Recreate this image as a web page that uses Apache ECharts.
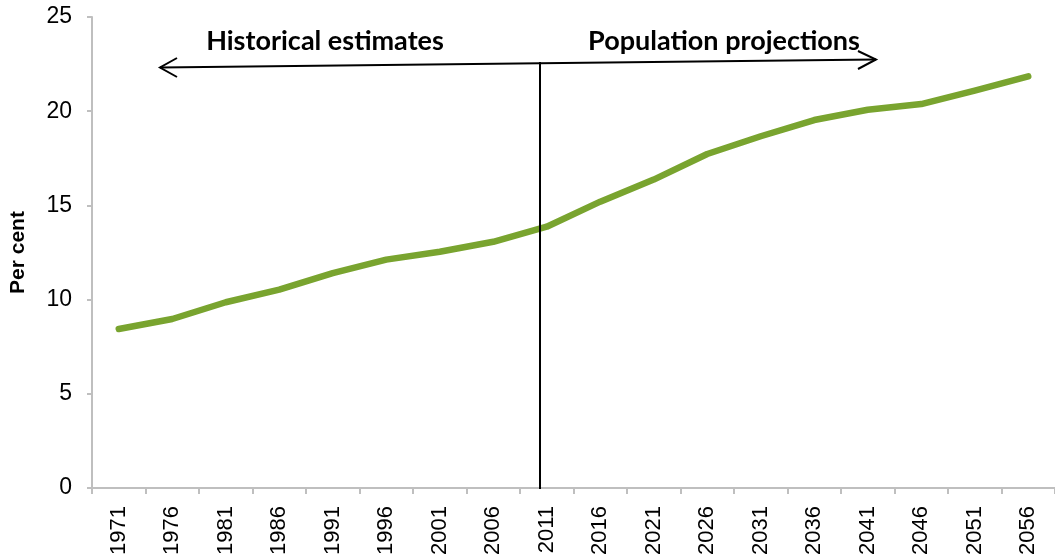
<!DOCTYPE html>
<html>
<head>
<meta charset="utf-8">
<script src="https://cdn.jsdelivr.net/npm/echarts@6/dist/echarts.min.js"></script>
<style>
html,body{margin:0;padding:0;background:#fff;}
#chart{width:1055px;height:560px;}
</style>
</head>
<body>
<div id="chart"></div>
<script>
const years = ['1971','1976','1981','1986','1991','1996','2001','2006','2011','2016','2021','2026','2031','2036','2041','2046','2051','2056'];
const perCent = [8.44, 8.97, 9.86, 10.53, 11.41, 12.12, 12.54, 13.07, 13.87, 15.2, 16.37, 17.73, 18.67, 19.53, 20.08, 20.38, 21.09, 21.85];
const yTicks = [0, 5, 10, 15, 20, 25];
const leftNote = 'Historical estimates';
const rightNote = 'Population projections';
const yTitle = 'Per cent';

const chart = echarts.init(document.getElementById('chart'), null, {renderer: 'canvas'});
const axisGrey = '#BFBFBF';
const labelFont = '"Liberation Sans", Arial, sans-serif';
const noteFont = 'Lato, "Open Sans", sans-serif';

chart.setOption({
  animation: false,
  backgroundColor: '#ffffff',
  grid: {left: 90, right: 0, top: 17, bottom: 72, containLabel: false},
  xAxis: {
    type: 'category',
    data: years,
    boundaryGap: true,
    axisLine: {show: true, lineStyle: {color: axisGrey, width: 2}},
    axisTick: {show: true, length: 6, lineStyle: {color: axisGrey, width: 2}},
    axisLabel: {rotate: 90, margin: 18, fontSize: 22, color: '#000', fontFamily: labelFont, interval: 0},
    splitLine: {show: false}
  },
  yAxis: {
    type: 'value',
    min: yTicks[0],
    max: yTicks[yTicks.length - 1],
    interval: 5,
    name: yTitle,
    nameLocation: 'middle',
    nameRotate: 90,
    nameGap: 63,
    nameTextStyle: {fontSize: 21, fontWeight: 'bold', color: '#000', fontFamily: labelFont},
    axisLine: {show: true, lineStyle: {color: axisGrey, width: 2}},
    axisTick: {show: true, length: 5, lineStyle: {color: axisGrey, width: 2}},
    axisLabel: {margin: 20, fontSize: 23, color: '#000', fontFamily: labelFont},
    splitLine: {show: false}
  },
  series: [{
    type: 'line',
    data: perCent,
    symbol: 'none',
    lineStyle: {color: '#79A42F', width: 6.5, cap: 'round', join: 'round'},
    z: 3
  }],
  graphic: [
    {type: 'line', shape: {x1: 160, y1: 67.5, x2: 876, y2: 59.5}, style: {stroke: '#000', lineWidth: 2}, z: 10},
    {type: 'polyline', shape: {points: [[177, 58], [160, 67.5], [177, 77]]}, style: {stroke: '#000', lineWidth: 2, fill: null}, z: 10},
    {type: 'polyline', shape: {points: [[858, 51], [876, 59.5], [858, 69]]}, style: {stroke: '#000', lineWidth: 2, fill: null}, z: 10},
    {type: 'line', shape: {x1: 540, y1: 62, x2: 540, y2: 489}, style: {stroke: '#000', lineWidth: 2}, z: 10},
    {type: 'text', x: 325, y: 41, style: {text: leftNote, fill: '#000', font: 'bold 27px ' + noteFont, textAlign: 'center', textVerticalAlign: 'middle'}, z: 10},
    {type: 'text', x: 724, y: 41, style: {text: rightNote, fill: '#000', font: 'bold 27px ' + noteFont, textAlign: 'center', textVerticalAlign: 'middle'}, z: 10}
  ]
});
</script>
</body>
</html>
